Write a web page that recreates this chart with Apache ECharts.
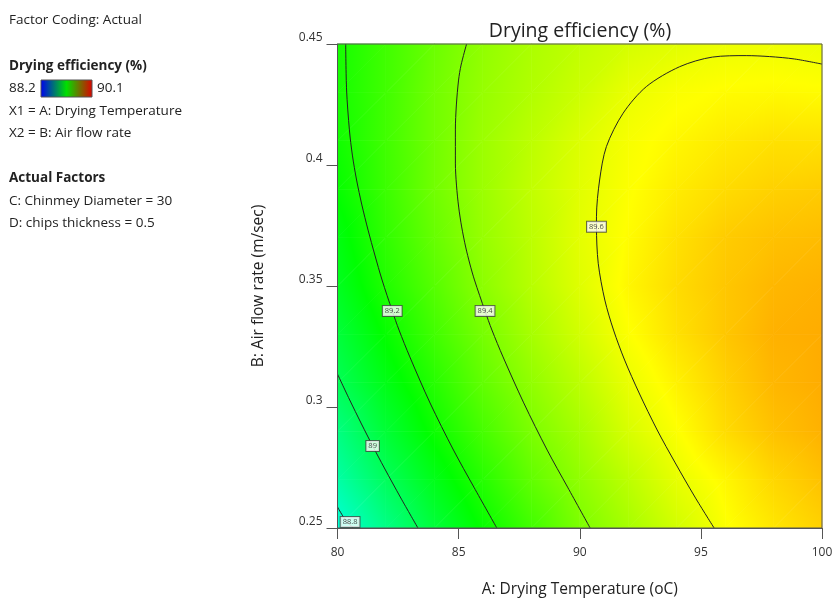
<!DOCTYPE html>
<html>
<head>
<meta charset="utf-8">
<script src="https://cdn.jsdelivr.net/npm/echarts@6/dist/echarts.min.js"></script>
<style>
  html, body { margin: 0; padding: 0; background: #fff; }
  #main { width: 833px; height: 598px; }
</style>
</head>
<body>
<div id="main"></div>
<script>
var chart = echarts.init(document.getElementById('main'));
var font = '"Open Sans", "Noto Sans", sans-serif';

// response surface (rows = air flow, cols = temperature)
var temps = [80, 82, 84, 86, 88, 90, 92, 94, 96, 98, 100];
var flows = [0.25, 0.27, 0.29, 0.31, 0.33, 0.35, 0.37, 0.39, 0.41, 0.43, 0.45];
var efficiency = [
  [88.75, 88.90, 89.04, 89.16, 89.27, 89.38, 89.46, 89.54, 89.617, 89.67, 89.71],
  [88.84, 88.98, 89.105, 89.22, 89.33, 89.42, 89.50, 89.58, 89.64, 89.70, 89.74],
  [88.91, 89.05, 89.17, 89.28, 89.38, 89.46, 89.55, 89.62, 89.69, 89.74, 89.77],
  [88.99, 89.11, 89.22, 89.33, 89.42, 89.50, 89.585, 89.65, 89.71, 89.76, 89.78],
  [89.04, 89.16, 89.27, 89.37, 89.46, 89.54, 89.62, 89.68, 89.73, 89.77, 89.78],
  [89.09, 89.21, 89.31, 89.41, 89.49, 89.565, 89.64, 89.69, 89.73, 89.76, 89.77],
  [89.12, 89.24, 89.34, 89.43, 89.50, 89.575, 89.63, 89.68, 89.72, 89.74, 89.75],
  [89.16, 89.26, 89.36, 89.44, 89.51, 89.57, 89.62, 89.66, 89.69, 89.71, 89.72],
  [89.18, 89.27, 89.36, 89.44, 89.50, 89.56, 89.61, 89.64, 89.665, 89.68, 89.68],
  [89.19, 89.27, 89.36, 89.43, 89.48, 89.53, 89.585, 89.615, 89.63, 89.635, 89.63],
  [89.19, 89.27, 89.35, 89.42, 89.47, 89.51, 89.545, 89.57, 89.59, 89.595, 89.59]
];

// contour lines [temp, flow]
var c888 = [[80, 0.2587], [80.25, 0.2545], [80.5, 0.2515], [80.65, 0.25]];
var c890 = [[80, 0.3136], [80.485, 0.3033], [80.99, 0.2930], [81.452, 0.2839], [81.934, 0.2748], [82.614, 0.2624], [83.32, 0.25]];
var c892 = [[80.338, 0.45], [80.375, 0.431], [80.491, 0.4145], [80.614, 0.4041], [80.788, 0.3938], [81.006, 0.3835],
  [81.262, 0.3731], [81.542, 0.3628], [81.839, 0.3525], [82.26, 0.3397], [82.54, 0.3318], [82.986, 0.3207],
  [83.819, 0.3017], [84.788, 0.2822], [85.629, 0.2669], [86.577, 0.25]];
var c894 = [[85.328, 0.45], [85.101, 0.4413], [84.998, 0.4351], [84.907, 0.4248], [84.866, 0.4145], [84.866, 0.4008],
  [84.911, 0.3917], [85.002, 0.3826], [85.126, 0.3744], [85.291, 0.3661], [85.464, 0.3591], [85.654, 0.3525],
  [86.087, 0.3397], [86.375, 0.3318], [86.833, 0.3207], [87.687, 0.3017], [88.656, 0.2822], [89.497, 0.2669], [90.429, 0.25]];
var c896 = [[100, 0.4417], [98.87, 0.4438], [97.84, 0.4448], [96.87, 0.4452], [95.48, 0.4446], [94.12, 0.4406],
  [92.75, 0.4324], [91.79, 0.4214], [91.10, 0.4076], [90.82, 0.3938], [90.69, 0.3786], [90.69, 0.3745],
  [90.763, 0.3594], [91.035, 0.3442], [91.394, 0.3318], [91.852, 0.3194], [92.45, 0.3058], [93.196, 0.2905],
  [93.942, 0.2769], [94.755, 0.2628], [95.546, 0.25]];

var labelNames = ['89.6', '89.4', '89.2', '89', '88.8'];
var labelPos = [[90.69, 0.3745], [86.09, 0.3397], [82.26, 0.3397], [81.45, 0.2839], [80.52, 0.2525]];

var vMin = 88.2, vMax = 90.1;
var palette = ['#0000ff', '#00ffff', '#00ff00', '#ffff00', '#ff0000'];
var breaks = [88.675, 89.15, 89.625];

function colorOf(v) {
  return echarts.color.lerp((v - vMin) / (vMax - vMin), palette);
}

// one triangle shaded linearly between its three corner values
function triangle(pts, vals) {
  var e1x = pts[1][0] - pts[0][0], e1y = pts[1][1] - pts[0][1];
  var e2x = pts[2][0] - pts[0][0], e2y = pts[2][1] - pts[0][1];
  var d1 = vals[1] - vals[0], d2 = vals[2] - vals[0];
  var det = e1x * e2y - e1y * e2x;
  var gx = (d1 * e2y - e1y * d2) / det;
  var gy = (e1x * d2 - d1 * e2x) / det;
  var g2 = gx * gx + gy * gy;
  var lo = Math.min(vals[0], vals[1], vals[2]);
  var hi = Math.max(vals[0], vals[1], vals[2]);
  var fill;
  if (!isFinite(g2) || g2 < 1e-14 || hi - lo < 1e-6) {
    fill = colorOf(vals[0]);
  } else {
    var ax = pts[0][0] + gx * (lo - vals[0]) / g2, ay = pts[0][1] + gy * (lo - vals[0]) / g2;
    var bx = pts[0][0] + gx * (hi - vals[0]) / g2, by = pts[0][1] + gy * (hi - vals[0]) / g2;
    var stops = [{ offset: 0, color: colorOf(lo) }];
    breaks.forEach(function (b) {
      if (b > lo && b < hi) stops.push({ offset: (b - lo) / (hi - lo), color: colorOf(b) });
    });
    stops.push({ offset: 1, color: colorOf(hi) });
    fill = new echarts.graphic.LinearGradient(ax, ay, bx, by, stops, true);
  }
  return { type: 'polygon', shape: { points: pts }, style: { fill: fill, stroke: fill, lineWidth: 0.7 } };
}

var cells = [];
for (var j = 0; j < flows.length - 1; j++) {
  for (var i = 0; i < temps.length - 1; i++) {
    cells.push([temps[i], flows[j], i, j]);
  }
}

function renderCell(params, api) {
  var i = api.value(2), j = api.value(3);
  var p00 = api.coord([temps[i], flows[j]]);
  var p10 = api.coord([temps[i + 1], flows[j]]);
  var p01 = api.coord([temps[i], flows[j + 1]]);
  var p11 = api.coord([temps[i + 1], flows[j + 1]]);
  var v00 = efficiency[j][i], v10 = efficiency[j][i + 1];
  var v01 = efficiency[j + 1][i], v11 = efficiency[j + 1][i + 1];
  return {
    type: 'group',
    children: [
      triangle([p00, p10, p11], [v00, v10, v11]),
      triangle([p00, p11, p01], [v00, v11, v01])
    ]
  };
}

function contour(name, data) {
  return {
    name: name,
    type: 'line',
    data: data,
    symbol: 'none',
    smooth: 0.3,
    silent: true,
    z: 5,
    lineStyle: { color: '#222', width: 1 },
    animation: false
  };
}

function leftText(x, y, text, bold) {
  return {
    type: 'text',
    x: x,
    y: y,
    style: {
      text: text,
      fontSize: 13.5,
      fontWeight: bold ? 'bold' : 'normal',
      fontFamily: font,
      fill: '#222',
      verticalAlign: 'middle'
    }
  };
}

chart.setOption({
  backgroundColor: '#fff',
  animation: false,
  title: {
    text: 'Drying efficiency (%)',
    left: 575,
    top: 16,
    textAlign: 'center',
    textStyle: { fontSize: 19.5, fontWeight: 'normal', color: '#222', fontFamily: font }
  },
  grid: {
    left: 337.5,
    right: 11,
    top: 44,
    bottom: 70,
    outerBoundsMode: 'none',
    show: true,
    z: 10,
    borderColor: '#555',
    borderWidth: 1,
    backgroundColor: 'transparent'
  },
  xAxis: {
    type: 'value',
    min: 80,
    max: 100,
    interval: 5,
    z: 11,
    name: 'A: Drying Temperature (oC)',
    nameLocation: 'middle',
    nameGap: 54,
    nameTextStyle: { fontSize: 15.5, color: '#222', fontFamily: font },
    axisLine: { show: true, onZero: false, lineStyle: { color: '#555' } },
    axisTick: { show: true, length: 11, lineStyle: { color: '#555' } },
    axisLabel: { margin: 19, fontSize: 12, color: '#333', fontFamily: font },
    splitLine: { show: false }
  },
  yAxis: {
    type: 'value',
    min: 0.25,
    max: 0.45,
    interval: 0.05,
    z: 11,
    name: 'B: Air flow rate (m/sec)',
    nameLocation: 'middle',
    nameGap: 71,
    nameTextStyle: { fontSize: 15.5, color: '#222', fontFamily: font },
    axisLine: { show: true, onZero: false, lineStyle: { color: '#555' } },
    axisTick: { show: true, length: 11, lineStyle: { color: '#555' } },
    axisLabel: { margin: 15, fontSize: 12, color: '#333', fontFamily: font, verticalAlign: 'bottom' },
    splitLine: { show: false }
  },
  graphic: [
    leftText(9, 20, 'Factor Coding: Actual'),
    leftText(9, 66, 'Drying efficiency (%)', true),
    leftText(9, 88, '88.2'),
    {
      type: 'rect',
      shape: { x: 41, y: 80, width: 51, height: 17 },
      style: {
        fill: new echarts.graphic.LinearGradient(0, 0, 1, 0, [
          { offset: 0, color: '#0000f0' },
          { offset: 0.5, color: '#00e000' },
          { offset: 1, color: '#e00000' }
        ]),
        stroke: '#555',
        lineWidth: 1
      }
    },
    leftText(97, 88, '90.1'),
    leftText(9, 111, 'X1 = A: Drying Temperature'),
    leftText(9, 133, 'X2 = B: Air flow rate'),
    leftText(9, 178, 'Actual Factors', true),
    leftText(9, 201, 'C: Chinmey Diameter = 30'),
    leftText(9, 223, 'D: chips thickness = 0.5')
  ],
  series: [
    {
      name: 'surface',
      type: 'custom',
      data: cells,
      encode: { x: 0, y: 1 },
      renderItem: renderCell,
      silent: true,
      z: 1
    },
    contour('88.8', c888),
    contour('89', c890),
    contour('89.2', c892),
    contour('89.4', c894),
    contour('89.6', c896),
    {
      name: 'labels',
      type: 'scatter',
      symbolSize: 1,
      silent: true,
      z: 6,
      itemStyle: { color: 'rgba(0,0,0,0)' },
      data: labelPos.map(function (p, k) { return { name: labelNames[k], value: p }; }),
      label: {
        show: true,
        position: 'inside',
        formatter: '{b}',
        fontSize: 7.5,
        color: '#222',
        fontFamily: font,
        backgroundColor: '#fff',
        borderColor: '#444',
        borderWidth: 1,
        padding: [1, 2, 1, 2]
      }
    }
  ]
});
</script>
</body>
</html>
